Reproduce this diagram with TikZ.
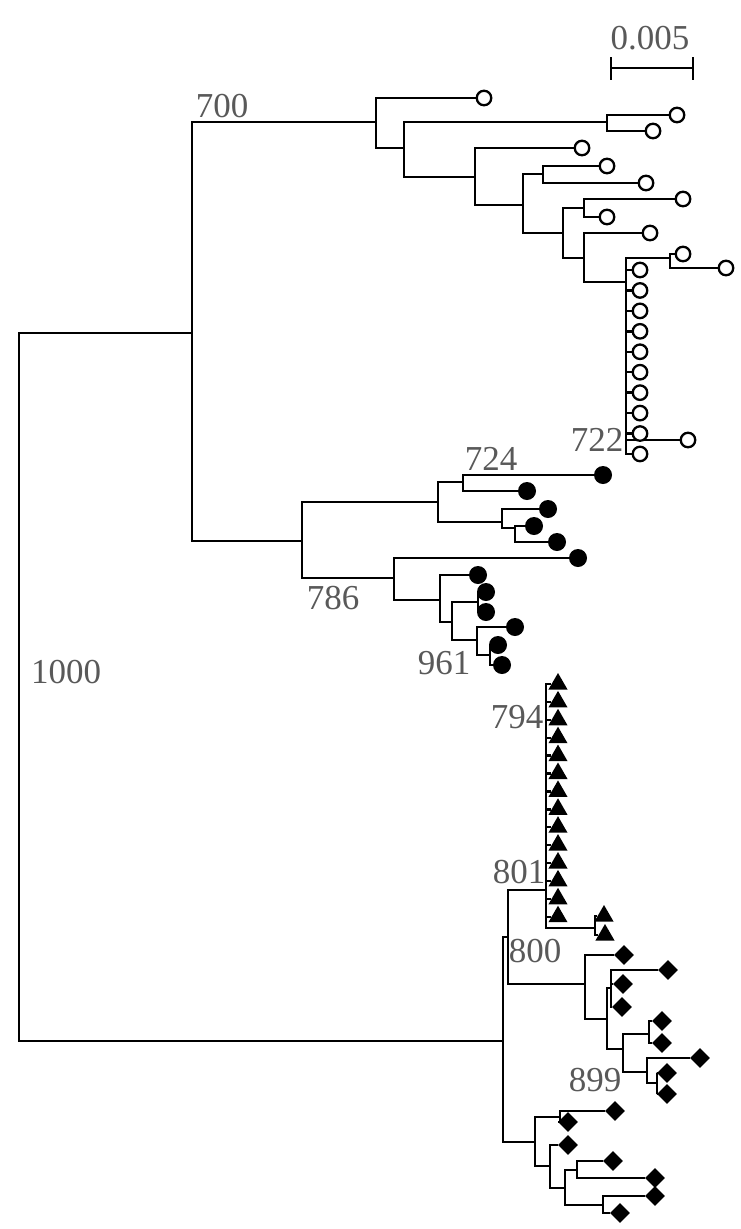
\documentclass[tikz,border=0pt]{standalone}
\usepackage{fontspec}
\setmainfont{Liberation Serif}
\usetikzlibrary{shapes.geometric,backgrounds}
\begin{document}
\begin{tikzpicture}[x=1pt,y=-1pt,
  br/.style={line width=2.4pt,line join=miter},
  oc/.style={circle,draw,line width=2.3pt,fill=white,minimum size=14.5pt,inner sep=0pt},
  fc/.style={circle,fill=black,minimum size=18pt,inner sep=0pt},
  tri/.style={regular polygon,regular polygon sides=3,fill=black,minimum size=22pt,inner sep=0pt},
  dia/.style={diamond,fill=black,minimum width=20pt,minimum height=20pt,inner sep=0pt},
  lbl/.style={text=black!65,font=\fontsize{35}{40}\selectfont,inner sep=0pt}
]
\useasboundingbox (0,0) rectangle (740,1229);

% ---------- internal nodes ----------
\coordinate (R0) at (19,687);
\coordinate (A) at (192,333);
\coordinate (B) at (376,122);
\coordinate (D) at (404,148);
\coordinate (E) at (607,122);
\coordinate (F) at (475,177);
\coordinate (G) at (523,205);
\coordinate (H) at (543,174);
\coordinate (I) at (563,233);
\coordinate (J) at (584,208);
\coordinate (K) at (584,258);
\coordinate (L) at (626,282);
\coordinate (M) at (670,258);
\coordinate (C) at (302,541);
\coordinate (N) at (438,502);
\coordinate (O) at (463,482);
\coordinate (P) at (502,522);
\coordinate (Q) at (515,528);
\coordinate (R) at (394,578);
\coordinate (S) at (440,600);
\coordinate (T) at (452,622);
\coordinate (U) at (478,602);
\coordinate (V) at (477,640);
\coordinate (W) at (490,655);
\coordinate (BB) at (503,1041);
\coordinate (Z) at (508,937);
\coordinate (X) at (546,890);
\coordinate (Y) at (595,928);
\coordinate (DD) at (585,984);
\coordinate (EE) at (607,1019);
\coordinate (FF) at (611,988);
\coordinate (GG) at (623,1049);
\coordinate (HH) at (649,1034);
\coordinate (II) at (647,1072);
\coordinate (JJ) at (657,1083);
\coordinate (KK) at (535,1142);
\coordinate (LL) at (560,1117);
\coordinate (MM) at (550,1166);
\coordinate (NN) at (565,1188);
\coordinate (OO) at (577,1170);
\coordinate (PP) at (603,1205);

% ---------- open circles ----------
\node[oc] (o1) at (484,98) {};
\node[oc] (o2) at (677,115) {};
\node[oc] (o3) at (653,131) {};
\node[oc] (o4) at (582,148) {};
\node[oc] (o5) at (607,166) {};
\node[oc] (o6) at (646,183) {};
\node[oc] (o7) at (683,199) {};
\node[oc] (o8) at (607,217) {};
\node[oc] (o9) at (650,233) {};
\node[oc] (o10) at (683,254) {};
\node[oc] (o11) at (726,268) {};
\node[oc] (o722) at (688,440) {};
\foreach \i in {0,...,9}{
  \pgfmathsetmacro\yy{270+20.44*\i}
  \node[oc] (col\i) at (640,\yy) {};
}

% ---------- filled circles ----------
\node[fc] (f1) at (603,475) {};
\node[fc] (f2) at (527,491) {};
\node[fc] (f3) at (548,509) {};
\node[fc] (f4) at (534,526) {};
\node[fc] (f5) at (557,542) {};
\node[fc] (f6) at (578,558) {};
\node[fc] (f7) at (478,575) {};
\node[fc] (f8) at (486,592) {};
\node[fc] (f9) at (486,612) {};
\node[fc] (f10) at (515,627) {};
\node[fc] (f11) at (498,645) {};
\node[fc] (f12) at (502,665) {};

% ---------- triangles ----------
\foreach \i in {0,...,13}{
  \pgfmathsetmacro\yy{684+17.9*\i}
  \node[tri] (tr\i) at (558,\yy) {};
}
\node[tri] (ty1) at (604,916) {};
\node[tri] (ty2) at (605,935) {};

% ---------- diamonds ----------
\node[dia] (d1) at (624,955) {};
\node[dia] (d2) at (668,970) {};
\node[dia] (d3) at (623,984) {};
\node[dia] (d4) at (622,1007) {};
\node[dia] (d5) at (662,1021) {};
\node[dia] (d6) at (662,1043) {};
\node[dia] (d7) at (700,1058) {};
\node[dia] (d8) at (667,1073) {};
\node[dia] (d9) at (667,1094) {};
\node[dia] (d10) at (615,1111) {};
\node[dia] (d11) at (568,1122) {};
\node[dia] (d12) at (568,1145) {};
\node[dia] (d13) at (613,1161) {};
\node[dia] (d14) at (655,1178) {};
\node[dia] (d15) at (655,1196) {};
\node[dia] (d16) at (620,1213) {};

% ---------- labels ----------
\node[lbl] (l700) at (222,106) {700};
\node[lbl] (l1000) at (66,672) {1000};
\node[lbl] (l724) at (491,459) {724};
\node[lbl] (l722) at (597,440) {722};
\node[lbl] (l786) at (333,598) {786};
\node[lbl] (l961) at (444,663) {961};
\node[lbl] (l794) at (517,717) {794};
\node[lbl] (l801) at (519,872) {801};
\node[lbl] (l800) at (535,951) {800};
\node[lbl] (l899) at (595,1080) {899};
\node[lbl] (lsc) at (650,38) {0.005};

% ---------- branches ----------
\begin{pgfonlayer}{background}
\draw[br] (R0) |- (A);
\draw[br] (R0) |- (BB);
\draw[br] (A) |- (B);
\draw[br] (A) |- (C);
% open-circle clade
\draw[br] (B) |- (o1.west);
\draw[br] (B) |- (D);
\draw[br] (D) |- (E);
\draw[br] (D) |- (F);
\draw[br] (E) |- (o2.west);
\draw[br] (E) |- (o3.west);
\draw[br] (F) |- (o4.west);
\draw[br] (F) |- (G);
\draw[br] (G) |- (H);
\draw[br] (G) |- (I);
\draw[br] (H) |- (o5.west);
\draw[br] (H) |- (o6.west);
\draw[br] (I) |- (J);
\draw[br] (I) |- (K);
\draw[br] (J) |- (o7.west);
\draw[br] (J) |- (o8.west);
\draw[br] (K) |- (o9.west);
\draw[br] (K) |- (L);
\draw[br] (L) |- (M);
\draw[br] (M) |- (o10.west);
\draw[br] (M) |- (o11.west);
\draw[br] (L) |- (o722.west);
\foreach \i in {0,...,9}{\draw[br] (L) |- (col\i.west);}
% filled-circle clade
\draw[br] (C) |- (N);
\draw[br] (C) |- (R);
\draw[br] (N) |- (O);
\draw[br] (N) |- (P);
\draw[br] (O) |- (f1.west);
\draw[br] (O) |- (f2.west);
\draw[br] (P) |- (f3.west);
\draw[br] (P) |- (Q);
\draw[br] (Q) |- (f4.west);
\draw[br] (Q) |- (f5.west);
\draw[br] (R) |- (f6.west);
\draw[br] (R) |- (S);
\draw[br] (S) |- (f7.west);
\draw[br] (S) |- (T);
\draw[br] (T) |- (U);
\draw[br] (T) |- (V);
\draw[br] (U) |- (f8.west);
\draw[br] (U) |- (f9.west);
\draw[br] (V) |- (f10.west);
\draw[br] (V) |- (W);
\draw[br] (W) |- (f11.west);
\draw[br] (W) |- (f12.west);
% lower clade
\draw[br] (BB) |- (Z);
\draw[br] (BB) |- (KK);
\draw[br] (Z) |- (X);
\draw[br] (Z) |- (DD);
\foreach \i in {0,...,13}{\draw[br] (X) |- (tr\i.west);}
\draw[br] (X) |- (Y);
\draw[br] (Y) |- (ty1.west);
\draw[br] (Y) |- (ty2.west);
\draw[br] (DD) |- (d1.west);
\draw[br] (DD) |- (EE);
\draw[br] (EE) |- (FF);
\draw[br] (EE) |- (GG);
\draw[br] (FF) |- (d2.west);
\draw[br] (FF) |- (d3.west);
\draw[br] (FF) |- (d4.west);
\draw[br] (GG) |- (HH);
\draw[br] (GG) |- (II);
\draw[br] (HH) |- (d5.west);
\draw[br] (HH) |- (d6.west);
\draw[br] (II) |- (d7.west);
\draw[br] (II) |- (JJ);
\draw[br] (JJ) |- (d8.west);
\draw[br] (JJ) |- (d9.west);
\draw[br] (KK) |- (LL);
\draw[br] (KK) |- (MM);
\draw[br] (LL) |- (d10.west);
\draw[br] (LL) |- (d11.west);
\draw[br] (MM) |- (d12.west);
\draw[br] (MM) |- (NN);
\draw[br] (NN) |- (OO);
\draw[br] (NN) |- (PP);
\draw[br] (OO) |- (d13.west);
\draw[br] (OO) |- (d14.west);
\draw[br] (PP) |- (d15.west);
\draw[br] (PP) |- (d16.west);
\end{pgfonlayer}

% ---------- scale bar ----------
\coordinate (sb1) at (611,68);
\coordinate (sb2) at (693,68);
\draw[br] (sb1) -- (sb2);
\draw[br] ([yshift=11pt]sb1) -- ([yshift=-12pt]sb1);
\draw[br] ([yshift=11pt]sb2) -- ([yshift=-12pt]sb2);
\end{tikzpicture}
\end{document}
